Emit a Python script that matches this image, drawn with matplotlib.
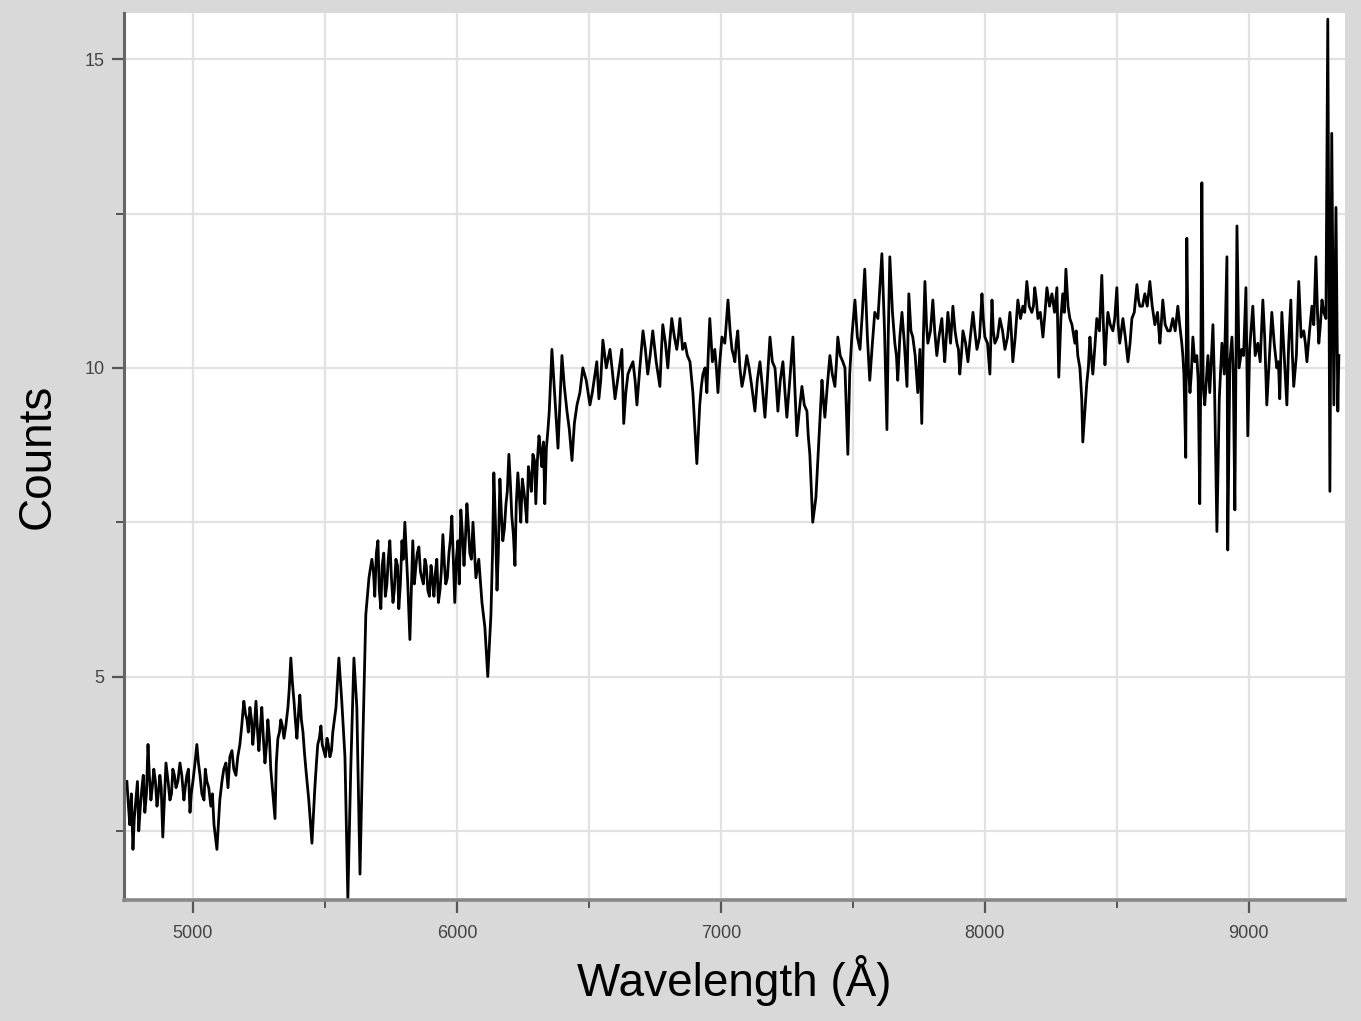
import numpy as np
import matplotlib.pyplot as plt
from matplotlib.ticker import MultipleLocator

# spectrum, wavelength in Angstrom
wave_blue = [4750, 4761, 4773, 4784, 4795, 4807, 4818, 4830, 4841, 4852, 4864, 4875, 4886, 4898,
             4913, 4924, 4936, 4951, 4966, 4977, 4989, 5000, 5015, 5027, 5042, 5053, 5068, 5080,
             5091, 5102, 5117, 5133, 5148, 5163, 5178, 5193, 5205, 5216, 5227, 5239, 5250, 5261,
             5273, 5284, 5295, 5311, 5322, 5333, 5345, 5360, 5371, 5383, 5394, 5405, 5417, 5428,
             5439, 5451, 5462, 5473, 5485, 5496, 5508, 5519, 5530, 5542, 5553, 5564, 5576, 5587,
             5598, 5610, 5621, 5633, 5644, 5655, 5667, 5678, 5689, 5701, 5712, 5723, 5735, 5746,
             5758, 5769, 5780, 5792, 5803, 5814, 5822, 5833, 5845, 5856, 5867, 5879, 5890, 5902,
             5913, 5924, 5936, 5947, 5958, 5970, 5981, 5992, 6004, 6015, 6027, 6038, 6049, 6061,
             6072, 6083, 6095, 6106, 6117, 6129, 6140, 6152, 6163, 6174, 6186, 6197, 6208, 6220,
             6231, 6242, 6254, 6265, 6277, 6288, 6299, 6311, 6322, 6333, 6345]
counts_blue = [3.3, 2.6, 2.2, 3.0, 2.5, 3.2, 2.8, 3.9, 3.0, 3.5, 2.9, 3.4, 2.4, 3.6,
               3.0, 3.5, 3.2, 3.6, 3.0, 3.4, 2.8, 3.3, 3.9, 3.4, 3.0, 3.3, 2.9, 2.6,
               2.2, 3.0, 3.5, 3.2, 3.8, 3.4, 3.9, 4.6, 4.3, 4.5, 3.9, 4.6, 3.8, 4.5,
               3.6, 4.3, 3.5, 2.7, 4.0, 4.3, 4.0, 4.5, 5.3, 4.6, 4.0, 4.7, 4.1, 3.5,
               3.0, 2.3, 3.2, 3.9, 4.2, 3.8, 4.0, 3.7, 4.1, 4.5, 5.3, 4.6, 3.7, 1.4,
               3.5, 5.3, 4.5, 1.8, 4.0, 6.0, 6.6, 6.9, 6.3, 7.2, 6.1, 7.0, 6.5, 7.2,
               6.2, 6.9, 6.1, 7.2, 7.5, 6.5, 5.6, 7.2, 6.8, 7.1, 6.6, 6.9, 6.4, 6.8,
               6.3, 6.9, 6.4, 7.3, 6.5, 7.0, 7.6, 6.2, 7.2, 7.7, 6.8, 7.8, 7.0, 7.5,
               6.6, 6.9, 6.2, 5.8, 5.0, 6.0, 8.3, 6.4, 8.2, 7.2, 7.8, 8.6, 7.6, 6.8,
               8.3, 7.5, 8.0, 7.5, 8.2, 8.6, 7.8, 8.9, 8.4, 7.8, 9.0]

wave_mid = [6360, 6383, 6398, 6417, 6436, 6455, 6477, 6504, 6523, 6538, 6553, 6580, 6599, 6625,
            6632, 6648, 6667, 6682, 6705, 6723, 6742, 6769, 6780, 6799, 6814, 6833, 6845, 6864,
            6883, 6894, 6909, 6920, 6932, 6947, 6958, 6977, 6989, 7004, 7027, 7042, 7053, 7064,
            7080, 7098, 7117, 7129, 7148, 7167, 7186, 7205, 7216, 7235, 7250, 7273, 7288, 7307,
            7326, 7337, 7348, 7360, 7371, 7383, 7394, 7413, 7432, 7443, 7462, 7481, 7496, 7508,
            7527, 7545, 7564, 7583, 7610, 7629, 7640, 7659, 7670, 7686, 7705, 7712, 7727, 7746,
            7761, 7773, 7784, 7803, 7818, 7837, 7848, 7860, 7879, 7894, 7905, 7917, 7936, 7955,
            7970, 7989, 8000, 8019, 8027, 8038, 8057, 8076, 8095, 8106, 8125, 8144, 8159, 8178,
            8189, 8201, 8220, 8235, 8254, 8273, 8280, 8295, 8307, 8322, 8341, 8352, 8367, 8371,
            8386]
counts_mid = [10.3, 8.7, 10.2, 9.3, 8.5, 9.4, 10.0, 9.4, 9.9, 9.5, 10.45, 10.3, 9.5, 10.3,
              9.1, 9.9, 10.1, 9.4, 10.6, 9.9, 10.6, 9.7, 10.7, 10.0, 10.8, 10.3, 10.8, 10.4,
              10.1, 9.6, 8.45, 9.4, 9.9, 9.6, 10.8, 10.3, 9.6, 10.5, 11.1, 10.3, 10.1, 10.6,
              9.7, 10.2, 9.7, 9.3, 10.1, 9.2, 10.5, 10.0, 9.3, 10.1, 9.2, 10.5, 8.9, 9.7,
              9.3, 8.6, 7.5, 7.9, 8.8, 9.8, 9.2, 10.2, 9.7, 10.5, 10.1, 8.6, 10.5, 11.1,
              10.3, 11.6, 9.8, 10.9, 11.85, 9.0, 11.8, 10.4, 9.8, 10.9, 9.7, 11.2, 10.5, 9.6,
              9.1, 11.4, 10.4, 11.1, 10.2, 10.8, 10.1, 10.9, 11.0, 10.4, 9.9, 10.6, 10.1, 10.9,
              10.3, 11.2, 10.5, 9.9, 11.1, 10.4, 10.8, 10.3, 10.9, 10.1, 11.1, 11.0, 11.4, 10.9,
              11.3, 10.8, 10.5, 11.3, 11.2, 11.3, 9.85, 11.2, 11.6, 10.8, 10.4, 10.2, 9.5, 8.8,
              9.75]

wave_red = [8398, 8409, 8424, 8443, 8455, 8466, 8485, 8500, 8511, 8523, 8542, 8557, 8576, 8587,
            8606, 8625, 8644, 8663, 8674, 8693, 8712, 8731, 8746, 8754, 8761, 8765, 8777, 8788,
            8803, 8814, 8822, 8833, 8845, 8864, 8879, 8898, 8917, 8920, 8936, 8947, 8955, 8973,
            8989, 8996, 9015, 9034, 9053, 9068, 9087, 9106, 9117, 9125, 9144, 9159, 9170, 9189,
            9208, 9220, 9239, 9254, 9265, 9277, 9292, 9299, 9307, 9314, 9322, 9330, 9337, 9341]
counts_red = [10.5, 9.9, 10.8, 11.5, 10.05, 10.9, 10.6, 11.3, 10.4, 10.8, 10.1, 10.8, 11.35, 11.0,
              11.2, 11.4, 10.7, 10.4, 11.1, 10.6, 10.8, 11.0, 10.4, 9.9, 8.55, 12.1, 9.6, 10.5,
              10.2, 7.8, 13.0, 9.4, 10.2, 10.7, 7.35, 10.4, 11.8, 7.05, 10.5, 7.7, 12.3, 10.3,
              11.3, 8.9, 11.0, 10.4, 11.1, 9.4, 10.9, 10.0, 9.5, 10.9, 9.4, 11.1, 9.7, 11.4,
              10.6, 10.1, 11.0, 11.8, 10.4, 11.1, 10.8, 15.65, 8.0, 13.8, 9.4, 12.6, 9.3, 10.2]

# in-between samples where the trace is a dense band
wave_fill = [4756, 4767, 4778, 4790, 4801, 4812, 4824, 4835, 4846, 4858, 4869, 4880, 4892, 4906,
             4919, 4930, 4943, 4958, 4971, 4983, 4994, 5008, 5021, 5034, 5047, 5060, 5074, 5110,
             5125, 5140, 5155, 5170, 5185, 5199, 5210, 5222, 5233, 5245, 5256, 5267, 5279, 5290,
             5316, 5328, 5339, 5352, 5365, 5377, 5388, 5400, 5411, 5422, 5468, 5479, 5490, 5502,
             5513, 5525, 5536,
             5684, 5695, 5706, 5717, 5729, 5740, 5752, 5763, 5775, 5786, 5797, 5839, 5850, 5862,
             5873, 5884, 5896, 5907, 5919, 5930, 5941, 5953, 5964, 5975, 5998, 6009, 6021, 6032,
             6044, 6055, 6066,
             6135, 6146, 6157, 6169, 6180, 6191, 6203, 6214, 6225, 6237, 6248, 6259, 6271, 6282,
             6294, 6305, 6316, 6328, 6339, 6350,
             6370, 6390, 6407, 6426, 6445, 6466, 6490, 6513, 6530, 6545, 6566, 6590, 6612, 6640,
             6657, 6675, 6693, 6714, 6732, 6755, 6775, 6790, 6806, 6824, 6839, 6855, 6873, 6926,
             6940, 6952, 6968, 6983, 6996, 7015, 7035, 7048, 7058, 7072, 7089, 7107, 7123, 7138,
             7157, 7176, 7195, 7210, 7225, 7243, 7261, 7280, 7297, 7316, 7331,
             7388, 7403, 7422, 7438, 7452, 7470, 7488, 7502, 7517, 7536, 7555, 7574, 7595, 7620,
             7634, 7650, 7665, 7678, 7695, 7720, 7736, 7754, 7767, 7779, 7794, 7810, 7826, 7843,
             7854, 7870, 7887, 7900, 7911, 7927, 7945, 7962, 7980, 7994, 8010, 8032, 8048, 8067,
             8086, 8100, 8115, 8135, 8151, 8168, 8184, 8195, 8210, 8228, 8245, 8264, 8288, 8301,
             8315, 8330, 8346, 8360, 8379, 8392,
             8403, 8416, 8434, 8449, 8460, 8475, 8492, 8505, 8517, 8532, 8550, 8566, 8582, 8597,
             8615, 8634, 8654, 8668, 8683, 8702, 8721, 8738, 8750, 8771, 8782, 8795, 8808, 8818,
             8827, 8839, 8852, 8870, 8888, 8907, 8928, 8941, 8963, 8980, 9003, 9024, 9043, 9060,
             9078, 9096, 9112, 9134, 9151, 9164, 9180, 9198, 9214, 9230, 9246, 9260, 9271, 9284]
counts_fill = [2.9, 3.1, 2.7, 3.3, 2.9, 3.4, 3.1, 3.4, 3.2, 3.3, 3.1, 3.2, 3.0, 3.3,
               3.1, 3.4, 3.3, 3.4, 3.2, 3.5, 3.1, 3.6, 3.6, 3.1, 3.5, 3.2, 3.1, 3.3,
               3.6, 3.7, 3.5, 3.7, 4.2, 4.4, 4.1, 4.3, 4.2, 4.1, 4.2, 4.0, 3.9, 4.0,
               3.6, 4.1, 4.2, 4.2, 4.8, 4.9, 4.3, 4.4, 4.3, 3.8, 3.6, 4.0, 3.9, 3.7,
               3.9, 3.8, 4.3,
               6.7, 7.0, 6.4, 6.8, 6.3, 6.9, 6.6, 6.4, 6.8, 6.5, 6.9, 6.5, 7.0, 6.7,
               6.5, 6.8, 6.3, 6.6, 6.7, 6.2, 6.7, 6.8, 6.6, 7.2, 6.9, 6.5, 7.3, 7.2,
               7.4, 6.9, 7.1,
               7.0, 7.5, 7.0, 7.6, 7.4, 8.0, 8.1, 7.3, 7.8, 7.9, 8.2, 7.8, 8.4, 8.0,
               8.5, 8.5, 8.7, 8.8, 8.7, 9.3,
               9.6, 9.4, 9.7, 9.0, 9.1, 9.6, 9.8, 9.6, 10.1, 9.8, 10.0, 9.9, 9.9, 9.6,
               10.0, 9.8, 10.0, 10.3, 10.2, 10.1, 10.3, 10.4, 10.4, 10.5, 10.5, 10.3, 10.2, 9.7,
               10.0, 10.2, 10.1, 10.0, 10.1, 10.4, 10.6, 10.2, 10.4, 10.0, 9.9, 10.0, 9.5, 9.8,
               9.7, 9.8, 10.1, 9.7, 9.8, 9.6, 9.8, 9.7, 9.3, 9.4, 8.9,
               9.5, 9.7, 9.9, 10.1, 10.2, 10.0, 9.9, 10.8, 10.5, 10.9, 10.5, 10.4, 10.8, 10.6,
               10.5, 10.9, 10.2, 10.5, 10.4, 10.6, 10.2, 10.3, 10.5, 10.7, 10.6, 10.6, 10.5, 10.4,
               10.5, 10.4, 10.6, 10.3, 10.2, 10.4, 10.5, 10.6, 10.5, 10.8, 10.4, 10.6, 10.5, 10.6,
               10.5, 10.6, 10.5, 10.8, 10.9, 11.0, 11.0, 11.1, 10.9, 10.9, 11.0, 10.9, 10.8, 10.9,
               11.0, 10.7, 10.6, 10.0, 9.3, 10.0,
               10.2, 10.3, 10.6, 10.7, 10.5, 10.7, 10.8, 10.7, 10.6, 10.5, 10.4, 10.9, 11.1, 11.0,
               11.0, 11.0, 10.9, 10.7, 10.7, 10.6, 10.6, 10.7, 10.2, 10.0, 9.9, 10.1, 9.8, 10.0,
               9.7, 9.8, 9.6, 9.7, 9.5, 9.9, 10.1, 9.9, 10.0, 10.2, 10.3, 10.2, 10.1, 10.5,
               10.2, 10.4, 10.1, 10.2, 10.4, 10.3, 10.2, 10.5, 10.4, 10.6, 10.7, 10.9, 10.7, 10.9]

table = sorted(zip(wave_blue + wave_mid + wave_red + wave_fill,
                   counts_blue + counts_mid + counts_red + counts_fill))
wave = np.array([w for w, c in table])
counts = np.array([c for w, c in table])

fig = plt.figure(figsize=(13.61, 10.21), dpi=100, facecolor="#d9d9d9")
ax = fig.add_axes([0.0911, 0.1185, 0.8971, 0.8688])
ax.set_facecolor("white")

ax.plot(wave, counts, color="black", lw=2.0)

ax.set_xlim(4739, 9364)
ax.set_ylim(1.38, 15.75)

ax.xaxis.set_major_locator(MultipleLocator(1000))
ax.xaxis.set_minor_locator(MultipleLocator(500))
ax.yaxis.set_major_locator(MultipleLocator(5))
ax.yaxis.set_minor_locator(MultipleLocator(2.5))

ax.grid(which="both", color="#e2e2e2", lw=1.6)
ax.set_axisbelow(True)

for s in ["top", "right"]:
    ax.spines[s].set_visible(False)
ax.spines["left"].set_color("#666666")
ax.spines["left"].set_linewidth(2.2)
ax.spines["bottom"].set_color("#888888")
ax.spines["bottom"].set_linewidth(2.6)

ax.tick_params(which="major", length=9, width=1.6, color="#555555", labelsize=13,
               labelcolor="#444444", pad=5)
ax.tick_params(axis="x", which="major", pad=9)
ax.tick_params(which="minor", length=6, width=1.4, color="#555555")
for lab in ax.get_xticklabels() + ax.get_yticklabels():
    lab.set_family("Liberation Sans")

ax.set_xlabel("Wavelength (Å)", fontsize=33, family="Liberation Sans", labelpad=9)
ax.set_ylabel("Counts", fontsize=33, family="Liberation Sans", labelpad=18)

fig.savefig("out.png", dpi=100, facecolor=fig.get_facecolor())
